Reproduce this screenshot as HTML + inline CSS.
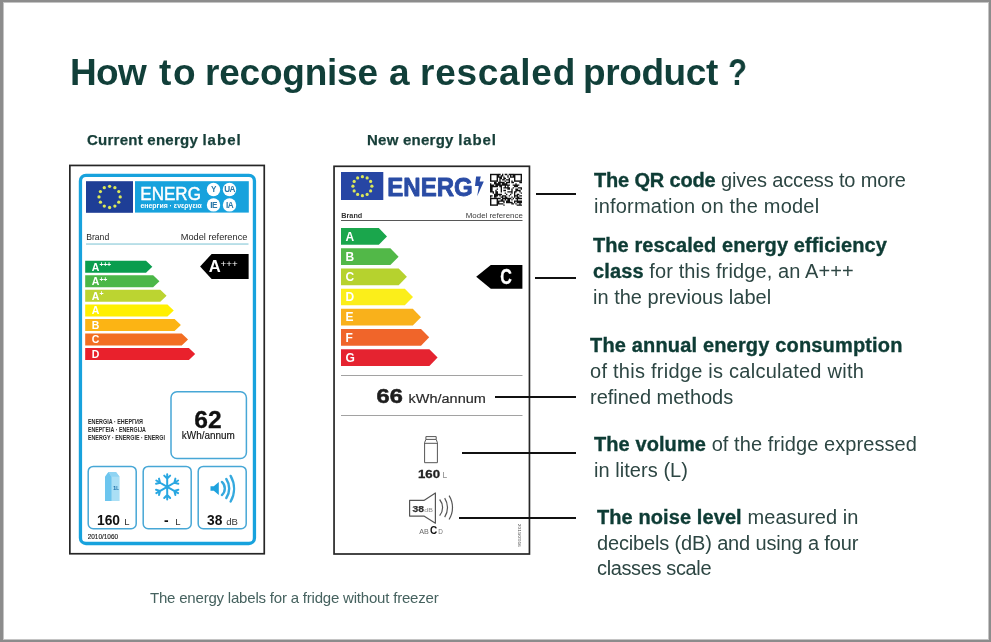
<!DOCTYPE html>
<html><head><meta charset="utf-8">
<style>
*{margin:0;padding:0;box-sizing:border-box}
html,body{width:991px;height:642px;overflow:hidden;background:#fff}
body{-webkit-font-smoothing:antialiased;position:relative;font-family:"Liberation Sans",sans-serif;color:#0f4540}
.a{position:absolute;white-space:nowrap;will-change:transform}
#frame{position:absolute;left:0;top:0;width:991px;height:642px;border-style:solid;border-color:#8c8c8c;border-width:2px 2px 2px 3px}
#frame2{position:absolute;left:3px;top:2px;width:986px;height:638px;border-style:solid;border-color:#c4c4c4;border-width:1px 1px 1px 1px}
.title{left:70px;top:54.3px;font-size:37px;line-height:37px;font-weight:bold;letter-spacing:-0.1px;color:#113f39}
.h2{font-size:15px;line-height:15px;font-weight:bold;letter-spacing:0.25px;color:#163e38;-webkit-text-stroke:0.25px #163e38;top:132px}
.cap{left:150px;top:590px;font-size:15px;line-height:15px;letter-spacing:-0.2px;color:#46625f}
.rt{font-size:20px;line-height:25.8px;color:#2d4643}
.rt b{color:#0e3c35;-webkit-text-stroke:0.35px #0e3c35}
.ln{position:absolute;height:2px;background:#111}
.box{position:absolute;border:1.5px solid #222}
</style></head><body>
<div id="frame"></div><div id="frame2"></div>

<div class="a title" style="left:70.00px;letter-spacing:-0.700px">How</div>
<div class="a title" style="left:158.6px;letter-spacing:1.6px">to</div>
<div class="a title" style="left:205.00px;letter-spacing:-0.225px">recognise</div>
<div class="a title" style="left:388.50px;letter-spacing:-0.100px">a</div>
<div class="a title" style="left:419.50px;letter-spacing:0.729px">rescaled</div>
<div class="a title" style="left:583.00px;letter-spacing:-0.400px">product</div>
<div class="a title" style="left:727.6px;letter-spacing:0;transform:scaleX(0.84);transform-origin:0 0">?</div>
<div class="a h2" style="left:87px">Current energy <span style="letter-spacing:1px">label</span></div>
<div class="a h2" style="left:366.5px">New energy <span style="letter-spacing:0.9px">label</span></div>
<div class="a cap">The energy labels for a fridge without freezer</div>

<div class="a rt" style="left:594.0px;top:168.4px;letter-spacing:-0.161px"><b>The QR code</b> gives access to more</div>
<div class="a rt" style="left:594.0px;top:194.2px;letter-spacing:0.217px">information on the model</div>
<div class="a rt" style="left:592.6px;top:233.2px;letter-spacing:0.090px"><b>The rescaled energy efficiency</b></div>
<div class="a rt" style="left:592.6px;top:259.0px;letter-spacing:0.117px"><b>class</b> for this fridge, an A+++</div>
<div class="a rt" style="left:592.6px;top:284.8px;letter-spacing:0.010px">in the previous label</div>
<div class="a rt" style="left:590.3px;top:333.4px;letter-spacing:0.164px"><b>The annual energy consumption</b></div>
<div class="a rt" style="left:590.3px;top:359.2px;letter-spacing:0.256px">of this fridge is calculated with</div>
<div class="a rt" style="left:590.3px;top:385.0px;letter-spacing:-0.014px">refined methods</div>
<div class="a rt" style="left:593.6px;top:432.4px;letter-spacing:0.085px"><b>The volume</b> of the fridge expressed</div>
<div class="a rt" style="left:593.6px;top:458.2px;letter-spacing:0.050px">in liters (L)</div>
<div class="a rt" style="left:596.6px;top:504.8px;letter-spacing:0.092px"><b>The noise level</b> measured in</div>
<div class="a rt" style="left:596.6px;top:530.6px;letter-spacing:-0.152px">decibels (dB) and using a four</div>
<div class="a rt" style="left:596.6px;top:556.4px;letter-spacing:-0.367px">classes scale</div>

<!-- current label -->

<!-- new label -->

<svg class="a" style="left:0;top:0" width="991" height="642" viewBox="0 0 991 642"><rect x="69.85" y="165.45" width="194.4" height="388.3" fill="none" stroke="#262626" stroke-width="1.7"/>
<rect x="334.05" y="166.3" width="195.4" height="387.7" fill="none" stroke="#262626" stroke-width="1.7"/>
<rect x="80.45" y="175.4" width="174" height="368.1" rx="5.5" fill="none" stroke="#17a2dd" stroke-width="3.3"/>
<rect x="86" y="181.2" width="47" height="31.6" fill="#1e3e96"/>
<g fill="#dce85a"><circle cx="109.60" cy="186.30" r="1.65"/><circle cx="114.90" cy="187.72" r="1.65"/><circle cx="118.78" cy="191.60" r="1.65"/><circle cx="120.20" cy="196.90" r="1.65"/><circle cx="118.78" cy="202.20" r="1.65"/><circle cx="114.90" cy="206.08" r="1.65"/><circle cx="109.60" cy="207.50" r="1.65"/><circle cx="104.30" cy="206.08" r="1.65"/><circle cx="100.42" cy="202.20" r="1.65"/><circle cx="99.00" cy="196.90" r="1.65"/><circle cx="100.42" cy="191.60" r="1.65"/><circle cx="104.30" cy="187.72" r="1.65"/></g>
<rect x="135" y="181.2" width="113.8" height="31.4" fill="#17a2dd"/>
<text x="140.3" y="199.6" font-family="Liberation Sans" font-size="18.4" fill="#fff" stroke="#fff" stroke-width="0.45" textLength="60.6" lengthAdjust="spacingAndGlyphs">ENERG</text>
<text x="140.4" y="207.6" font-family="Liberation Sans" font-size="7" font-weight="bold" fill="#fff" textLength="61.5" lengthAdjust="spacingAndGlyphs">енергия · ενεργεια</text>
<circle cx="213.5" cy="189.5" r="6.7" fill="#fff"/>
<text x="213.5" y="192.4" font-family="Liberation Sans" font-size="8.2" font-weight="bold" fill="#2a78a8" text-anchor="middle" letter-spacing="-0.6">Y</text>
<circle cx="229.5" cy="189.5" r="6.7" fill="#fff"/>
<text x="229.5" y="192.4" font-family="Liberation Sans" font-size="8.2" font-weight="bold" fill="#2a78a8" text-anchor="middle" letter-spacing="-0.6">UA</text>
<circle cx="213.5" cy="204.9" r="6.7" fill="#fff"/>
<text x="213.5" y="207.8" font-family="Liberation Sans" font-size="8.2" font-weight="bold" fill="#2a78a8" text-anchor="middle" letter-spacing="-0.6">IE</text>
<circle cx="229.5" cy="204.9" r="6.7" fill="#fff"/>
<text x="229.5" y="207.8" font-family="Liberation Sans" font-size="8.2" font-weight="bold" fill="#2a78a8" text-anchor="middle" letter-spacing="-0.6">IA</text>
<text x="86.2" y="239.5" font-family="Liberation Sans" font-size="9.2" fill="#262626" textLength="23" lengthAdjust="spacingAndGlyphs">Brand</text>
<text x="180.7" y="239.5" font-family="Liberation Sans" font-size="9.2" fill="#262626" textLength="66.7" lengthAdjust="spacingAndGlyphs">Model reference</text>
<rect x="86" y="243.3" width="162.5" height="1.5" fill="#a6d6e2"/>
<polygon points="85.2,260.8 146.0,260.8 152.3,266.8 146.0,272.8 85.2,272.8" fill="#0a9d4e"/>
<text x="91.8" y="270.80" font-family="Liberation Sans" font-size="10.5" font-weight="bold" fill="#fff">A<tspan font-size="7" dy="-3.6" letter-spacing="-0.3">+++</tspan></text>
<polygon points="85.2,275.33 153.14999999999998,275.33 159.45,281.33 153.14999999999998,287.33 85.2,287.33" fill="#4bb748"/>
<text x="91.8" y="285.33" font-family="Liberation Sans" font-size="10.5" font-weight="bold" fill="#fff">A<tspan font-size="7" dy="-3.6" letter-spacing="-0.3">++</tspan></text>
<polygon points="85.2,289.86 160.3,289.86 166.60000000000002,295.86 160.3,301.86 85.2,301.86" fill="#bcd431"/>
<text x="91.8" y="299.86" font-family="Liberation Sans" font-size="10.5" font-weight="bold" fill="#fff">A<tspan font-size="7" dy="-3.6" letter-spacing="-0.3">+</tspan></text>
<polygon points="85.2,304.39 167.45,304.39 173.75,310.39 167.45,316.39 85.2,316.39" fill="#fff000"/>
<text x="91.8" y="314.39" font-family="Liberation Sans" font-size="10.5" font-weight="bold" fill="#fff">A<tspan font-size="7" dy="-3.6" letter-spacing="-0.3"></tspan></text>
<polygon points="85.2,318.92 174.6,318.92 180.9,324.92 174.6,330.92 85.2,330.92" fill="#fcb414"/>
<text x="91.8" y="328.92" font-family="Liberation Sans" font-size="10.5" font-weight="bold" fill="#fff">B<tspan font-size="7" dy="-3.6" letter-spacing="-0.3"></tspan></text>
<polygon points="85.2,333.45 181.75,333.45 188.05,339.45 181.75,345.45 85.2,345.45" fill="#f26e22"/>
<text x="91.8" y="343.45" font-family="Liberation Sans" font-size="10.5" font-weight="bold" fill="#fff">C<tspan font-size="7" dy="-3.6" letter-spacing="-0.3"></tspan></text>
<polygon points="85.2,347.98 188.89999999999998,347.98 195.2,353.98 188.89999999999998,359.98 85.2,359.98" fill="#e9212c"/>
<text x="91.8" y="357.98" font-family="Liberation Sans" font-size="10.5" font-weight="bold" fill="#fff">D<tspan font-size="7" dy="-3.6" letter-spacing="-0.3"></tspan></text>
<polygon points="200.1,266.5 211.6,254.1 248.6,254.1 248.6,278.9 211.6,278.9" fill="#000"/>
<text x="208.8" y="272" font-family="Liberation Sans" font-size="16.6" font-weight="bold" fill="#fff">A</text>
<text x="220.6" y="267.3" font-family="Liberation Sans" font-size="9.5" fill="#fff" textLength="17" lengthAdjust="spacingAndGlyphs">+++</text>
<text x="87.9" y="424.1" font-family="Liberation Sans" font-size="7.3" font-weight="bold" fill="#2a2a2a" textLength="55" lengthAdjust="spacingAndGlyphs">ENERGIA · ЕНЕРГИЯ</text>
<text x="87.9" y="432.2" font-family="Liberation Sans" font-size="7.3" font-weight="bold" fill="#2a2a2a" textLength="58" lengthAdjust="spacingAndGlyphs">ΕΝΕΡΓΕΙΑ · ENERGIJA</text>
<text x="87.9" y="440.0" font-family="Liberation Sans" font-size="7.3" font-weight="bold" fill="#2a2a2a" textLength="77" lengthAdjust="spacingAndGlyphs">ENERGY · ENERGIE · ENERGI</text>
<rect x="171" y="391.8" width="75.4" height="66.8" rx="6" fill="none" stroke="#47a7d6" stroke-width="1.5"/>
<text x="208" y="428.4" font-family="Liberation Sans" font-size="24.6" font-weight="bold" fill="#111" stroke="#111" stroke-width="0.3" text-anchor="middle">62</text>
<text x="181.8" y="438.8" font-family="Liberation Sans" font-size="10.6" fill="#111" stroke="#111" stroke-width="0.15" textLength="53" lengthAdjust="spacingAndGlyphs">kWh/annum</text>
<rect x="88.2" y="466.4" width="48" height="62.3" rx="5" fill="none" stroke="#47a7d6" stroke-width="1.5"/>
<rect x="143.2" y="466.4" width="48" height="62.3" rx="5" fill="none" stroke="#47a7d6" stroke-width="1.5"/>
<rect x="198.2" y="466.4" width="48" height="62.3" rx="5" fill="none" stroke="#47a7d6" stroke-width="1.5"/>
<polygon points="105,476.8 108.5,471.9 116,471.9 119.6,476.8 119.6,501 105,501" fill="#aadff5"/>
<polygon points="105,476.8 108.5,471.9 111.5,476.8 111.5,501 105,501" fill="#6cc5ee"/>
<polygon points="111.5,476.8 108.5,471.9 116,471.9 119.6,476.8" fill="#8fd4f3"/>
<text x="113" y="490" font-family="Liberation Sans" font-size="6" font-weight="bold" fill="#1b6fa8">1<tspan font-size="4.5">L</tspan></text>
<path d="M167.20,486.80 L167.20,474.20 M167.20,478.60 L164.23,475.63 M167.20,478.60 L170.17,475.63 M167.20,486.80 L178.11,480.50 M174.30,482.70 L175.39,478.64 M174.30,482.70 L178.36,483.79 M167.20,486.80 L178.11,493.10 M174.30,490.90 L178.36,489.81 M174.30,490.90 L175.39,494.96 M167.20,486.80 L167.20,499.40 M167.20,495.00 L170.17,497.97 M167.20,495.00 L164.23,497.97 M167.20,486.80 L156.29,493.10 M160.10,490.90 L159.01,494.96 M160.10,490.90 L156.04,489.81 M167.20,486.80 L156.29,480.50 M160.10,482.70 L156.04,483.79 M160.10,482.70 L159.01,478.64" stroke="#29a7e1" stroke-width="2" stroke-linecap="round" fill="none"/>
<polygon points="210.5,486.3 213.8,486.3 218.8,482 218.8,495 213.8,490.7 210.5,490.7" fill="#1ea2de"/>
<path d="M221.89,481.96 A8.8,8.8 0 0 1 221.89,495.04 M226.29,478.99 A17,17 0 0 1 226.29,498.01 M230.63,475.90 A26,26 0 0 1 230.63,501.50" stroke="#35a9de" stroke-width="2.4" stroke-linecap="round" fill="none"/>
<text x="97" y="525" font-family="Liberation Sans" font-size="13.8" font-weight="bold" fill="#111">160</text>
<text x="124.3" y="525" font-family="Liberation Sans" font-size="9.5" fill="#333">L</text>
<text x="164" y="525" font-family="Liberation Sans" font-size="13.8" font-weight="bold" fill="#111">-</text>
<text x="175.2" y="525" font-family="Liberation Sans" font-size="9.5" fill="#333">L</text>
<text x="207" y="525" font-family="Liberation Sans" font-size="13.8" font-weight="bold" fill="#111">38</text>
<text x="226.2" y="525" font-family="Liberation Sans" font-size="9.5" fill="#333">dB</text>
<text x="87.7" y="538.9" font-family="Liberation Sans" font-size="7.2" fill="#1a1a1a" stroke="#1a1a1a" stroke-width="0.15" textLength="30.4" lengthAdjust="spacingAndGlyphs">2010/1060</text>
<rect x="341" y="172" width="42.3" height="28" fill="#2746a4"/>
<g fill="#dce85a"><circle cx="362.40" cy="176.70" r="1.6"/><circle cx="367.15" cy="177.97" r="1.6"/><circle cx="370.63" cy="181.45" r="1.6"/><circle cx="371.90" cy="186.20" r="1.6"/><circle cx="370.63" cy="190.95" r="1.6"/><circle cx="367.15" cy="194.43" r="1.6"/><circle cx="362.40" cy="195.70" r="1.6"/><circle cx="357.65" cy="194.43" r="1.6"/><circle cx="354.17" cy="190.95" r="1.6"/><circle cx="352.90" cy="186.20" r="1.6"/><circle cx="354.17" cy="181.45" r="1.6"/><circle cx="357.65" cy="177.97" r="1.6"/></g>
<text x="387.3" y="195.8" font-family="Liberation Sans" font-size="26.6" font-weight="bold" fill="#2a4ca5" stroke="#2a4ca5" stroke-width="0.9" stroke-linejoin="round" textLength="85.4" lengthAdjust="spacingAndGlyphs">ENERG</text>
<polygon points="476.1,176.6 480.8,176.6 479.6,181.5 483.8,181.5 477.2,196.3 478.8,186 475,186" fill="#2a4ca5"/>
<path d="M498.00,173.80h1.33v1.33h-1.33zM499.33,173.80h1.33v1.33h-1.33zM502.00,173.80h1.33v1.33h-1.33zM504.67,173.80h1.33v1.33h-1.33zM506.00,173.80h1.33v1.33h-1.33zM508.67,173.80h1.33v1.33h-1.33zM510.00,173.80h1.33v1.33h-1.33zM511.33,173.80h1.33v1.33h-1.33zM512.67,173.80h1.33v1.33h-1.33zM498.00,175.13h1.33v1.33h-1.33zM500.67,175.13h1.33v1.33h-1.33zM502.00,175.13h1.33v1.33h-1.33zM507.33,175.13h1.33v1.33h-1.33zM510.00,175.13h1.33v1.33h-1.33zM512.67,175.13h1.33v1.33h-1.33zM498.00,176.47h1.33v1.33h-1.33zM499.33,176.47h1.33v1.33h-1.33zM500.67,176.47h1.33v1.33h-1.33zM503.33,176.47h1.33v1.33h-1.33zM507.33,176.47h1.33v1.33h-1.33zM510.00,176.47h1.33v1.33h-1.33zM511.33,176.47h1.33v1.33h-1.33zM512.67,176.47h1.33v1.33h-1.33zM499.33,177.80h1.33v1.33h-1.33zM500.67,177.80h1.33v1.33h-1.33zM503.33,177.80h1.33v1.33h-1.33zM504.67,177.80h1.33v1.33h-1.33zM508.67,177.80h1.33v1.33h-1.33zM499.33,179.13h1.33v1.33h-1.33zM502.00,179.13h1.33v1.33h-1.33zM503.33,179.13h1.33v1.33h-1.33zM506.00,179.13h1.33v1.33h-1.33zM507.33,179.13h1.33v1.33h-1.33zM508.67,179.13h1.33v1.33h-1.33zM499.33,180.47h1.33v1.33h-1.33zM504.67,180.47h1.33v1.33h-1.33zM508.67,180.47h1.33v1.33h-1.33zM511.33,180.47h1.33v1.33h-1.33zM494.00,181.80h1.33v1.33h-1.33zM495.33,181.80h1.33v1.33h-1.33zM498.00,181.80h1.33v1.33h-1.33zM499.33,181.80h1.33v1.33h-1.33zM500.67,181.80h1.33v1.33h-1.33zM502.00,181.80h1.33v1.33h-1.33zM503.33,181.80h1.33v1.33h-1.33zM506.00,181.80h1.33v1.33h-1.33zM507.33,181.80h1.33v1.33h-1.33zM508.67,181.80h1.33v1.33h-1.33zM511.33,181.80h1.33v1.33h-1.33zM512.67,181.80h1.33v1.33h-1.33zM519.33,181.80h1.33v1.33h-1.33zM520.67,181.80h1.33v1.33h-1.33zM490.00,183.13h1.33v1.33h-1.33zM494.00,183.13h1.33v1.33h-1.33zM495.33,183.13h1.33v1.33h-1.33zM496.67,183.13h1.33v1.33h-1.33zM498.00,183.13h1.33v1.33h-1.33zM499.33,183.13h1.33v1.33h-1.33zM502.00,183.13h1.33v1.33h-1.33zM503.33,183.13h1.33v1.33h-1.33zM504.67,183.13h1.33v1.33h-1.33zM506.00,183.13h1.33v1.33h-1.33zM515.33,183.13h1.33v1.33h-1.33zM490.00,184.47h1.33v1.33h-1.33zM491.33,184.47h1.33v1.33h-1.33zM492.67,184.47h1.33v1.33h-1.33zM495.33,184.47h1.33v1.33h-1.33zM496.67,184.47h1.33v1.33h-1.33zM498.00,184.47h1.33v1.33h-1.33zM499.33,184.47h1.33v1.33h-1.33zM500.67,184.47h1.33v1.33h-1.33zM502.00,184.47h1.33v1.33h-1.33zM503.33,184.47h1.33v1.33h-1.33zM504.67,184.47h1.33v1.33h-1.33zM506.00,184.47h1.33v1.33h-1.33zM507.33,184.47h1.33v1.33h-1.33zM508.67,184.47h1.33v1.33h-1.33zM512.67,184.47h1.33v1.33h-1.33zM514.00,184.47h1.33v1.33h-1.33zM515.33,184.47h1.33v1.33h-1.33zM516.67,184.47h1.33v1.33h-1.33zM518.00,184.47h1.33v1.33h-1.33zM490.00,185.80h1.33v1.33h-1.33zM491.33,185.80h1.33v1.33h-1.33zM492.67,185.80h1.33v1.33h-1.33zM494.00,185.80h1.33v1.33h-1.33zM495.33,185.80h1.33v1.33h-1.33zM496.67,185.80h1.33v1.33h-1.33zM499.33,185.80h1.33v1.33h-1.33zM500.67,185.80h1.33v1.33h-1.33zM504.67,185.80h1.33v1.33h-1.33zM507.33,185.80h1.33v1.33h-1.33zM514.00,185.80h1.33v1.33h-1.33zM515.33,185.80h1.33v1.33h-1.33zM516.67,185.80h1.33v1.33h-1.33zM490.00,187.13h1.33v1.33h-1.33zM491.33,187.13h1.33v1.33h-1.33zM500.67,187.13h1.33v1.33h-1.33zM503.33,187.13h1.33v1.33h-1.33zM504.67,187.13h1.33v1.33h-1.33zM506.00,187.13h1.33v1.33h-1.33zM507.33,187.13h1.33v1.33h-1.33zM508.67,187.13h1.33v1.33h-1.33zM512.67,187.13h1.33v1.33h-1.33zM518.00,187.13h1.33v1.33h-1.33zM519.33,187.13h1.33v1.33h-1.33zM520.67,187.13h1.33v1.33h-1.33zM490.00,188.47h1.33v1.33h-1.33zM491.33,188.47h1.33v1.33h-1.33zM496.67,188.47h1.33v1.33h-1.33zM500.67,188.47h1.33v1.33h-1.33zM507.33,188.47h1.33v1.33h-1.33zM508.67,188.47h1.33v1.33h-1.33zM511.33,188.47h1.33v1.33h-1.33zM515.33,188.47h1.33v1.33h-1.33zM516.67,188.47h1.33v1.33h-1.33zM520.67,188.47h1.33v1.33h-1.33zM490.00,189.80h1.33v1.33h-1.33zM491.33,189.80h1.33v1.33h-1.33zM495.33,189.80h1.33v1.33h-1.33zM500.67,189.80h1.33v1.33h-1.33zM503.33,189.80h1.33v1.33h-1.33zM504.67,189.80h1.33v1.33h-1.33zM511.33,189.80h1.33v1.33h-1.33zM515.33,189.80h1.33v1.33h-1.33zM516.67,189.80h1.33v1.33h-1.33zM518.00,189.80h1.33v1.33h-1.33zM519.33,189.80h1.33v1.33h-1.33zM490.00,191.13h1.33v1.33h-1.33zM491.33,191.13h1.33v1.33h-1.33zM492.67,191.13h1.33v1.33h-1.33zM495.33,191.13h1.33v1.33h-1.33zM496.67,191.13h1.33v1.33h-1.33zM500.67,191.13h1.33v1.33h-1.33zM507.33,191.13h1.33v1.33h-1.33zM508.67,191.13h1.33v1.33h-1.33zM510.00,191.13h1.33v1.33h-1.33zM511.33,191.13h1.33v1.33h-1.33zM514.00,191.13h1.33v1.33h-1.33zM515.33,191.13h1.33v1.33h-1.33zM519.33,191.13h1.33v1.33h-1.33zM492.67,192.47h1.33v1.33h-1.33zM495.33,192.47h1.33v1.33h-1.33zM496.67,192.47h1.33v1.33h-1.33zM504.67,192.47h1.33v1.33h-1.33zM511.33,192.47h1.33v1.33h-1.33zM514.00,192.47h1.33v1.33h-1.33zM520.67,192.47h1.33v1.33h-1.33zM494.00,193.80h1.33v1.33h-1.33zM495.33,193.80h1.33v1.33h-1.33zM496.67,193.80h1.33v1.33h-1.33zM498.00,193.80h1.33v1.33h-1.33zM499.33,193.80h1.33v1.33h-1.33zM500.67,193.80h1.33v1.33h-1.33zM506.00,193.80h1.33v1.33h-1.33zM510.00,193.80h1.33v1.33h-1.33zM514.00,193.80h1.33v1.33h-1.33zM516.67,193.80h1.33v1.33h-1.33zM518.00,193.80h1.33v1.33h-1.33zM490.00,195.13h1.33v1.33h-1.33zM491.33,195.13h1.33v1.33h-1.33zM494.00,195.13h1.33v1.33h-1.33zM495.33,195.13h1.33v1.33h-1.33zM496.67,195.13h1.33v1.33h-1.33zM499.33,195.13h1.33v1.33h-1.33zM502.00,195.13h1.33v1.33h-1.33zM503.33,195.13h1.33v1.33h-1.33zM504.67,195.13h1.33v1.33h-1.33zM508.67,195.13h1.33v1.33h-1.33zM514.00,195.13h1.33v1.33h-1.33zM515.33,195.13h1.33v1.33h-1.33zM516.67,195.13h1.33v1.33h-1.33zM519.33,195.13h1.33v1.33h-1.33zM520.67,195.13h1.33v1.33h-1.33zM490.00,196.47h1.33v1.33h-1.33zM494.00,196.47h1.33v1.33h-1.33zM495.33,196.47h1.33v1.33h-1.33zM500.67,196.47h1.33v1.33h-1.33zM502.00,196.47h1.33v1.33h-1.33zM504.67,196.47h1.33v1.33h-1.33zM506.00,196.47h1.33v1.33h-1.33zM511.33,196.47h1.33v1.33h-1.33zM514.00,196.47h1.33v1.33h-1.33zM516.67,196.47h1.33v1.33h-1.33zM518.00,196.47h1.33v1.33h-1.33zM498.00,197.80h1.33v1.33h-1.33zM499.33,197.80h1.33v1.33h-1.33zM502.00,197.80h1.33v1.33h-1.33zM503.33,197.80h1.33v1.33h-1.33zM504.67,197.80h1.33v1.33h-1.33zM506.00,197.80h1.33v1.33h-1.33zM507.33,197.80h1.33v1.33h-1.33zM508.67,197.80h1.33v1.33h-1.33zM510.00,197.80h1.33v1.33h-1.33zM512.67,197.80h1.33v1.33h-1.33zM515.33,197.80h1.33v1.33h-1.33zM516.67,197.80h1.33v1.33h-1.33zM518.00,197.80h1.33v1.33h-1.33zM519.33,197.80h1.33v1.33h-1.33zM520.67,197.80h1.33v1.33h-1.33zM500.67,199.13h1.33v1.33h-1.33zM502.00,199.13h1.33v1.33h-1.33zM504.67,199.13h1.33v1.33h-1.33zM507.33,199.13h1.33v1.33h-1.33zM508.67,199.13h1.33v1.33h-1.33zM511.33,199.13h1.33v1.33h-1.33zM516.67,199.13h1.33v1.33h-1.33zM498.00,200.47h1.33v1.33h-1.33zM499.33,200.47h1.33v1.33h-1.33zM500.67,200.47h1.33v1.33h-1.33zM502.00,200.47h1.33v1.33h-1.33zM503.33,200.47h1.33v1.33h-1.33zM506.00,200.47h1.33v1.33h-1.33zM507.33,200.47h1.33v1.33h-1.33zM508.67,200.47h1.33v1.33h-1.33zM514.00,200.47h1.33v1.33h-1.33zM515.33,200.47h1.33v1.33h-1.33zM516.67,200.47h1.33v1.33h-1.33zM518.00,200.47h1.33v1.33h-1.33zM519.33,200.47h1.33v1.33h-1.33zM520.67,200.47h1.33v1.33h-1.33zM498.00,201.80h1.33v1.33h-1.33zM503.33,201.80h1.33v1.33h-1.33zM506.00,201.80h1.33v1.33h-1.33zM507.33,201.80h1.33v1.33h-1.33zM508.67,201.80h1.33v1.33h-1.33zM510.00,201.80h1.33v1.33h-1.33zM511.33,201.80h1.33v1.33h-1.33zM514.00,201.80h1.33v1.33h-1.33zM516.67,201.80h1.33v1.33h-1.33zM518.00,201.80h1.33v1.33h-1.33zM519.33,201.80h1.33v1.33h-1.33zM520.67,201.80h1.33v1.33h-1.33zM498.00,203.13h1.33v1.33h-1.33zM499.33,203.13h1.33v1.33h-1.33zM500.67,203.13h1.33v1.33h-1.33zM502.00,203.13h1.33v1.33h-1.33zM511.33,203.13h1.33v1.33h-1.33zM512.67,203.13h1.33v1.33h-1.33zM515.33,203.13h1.33v1.33h-1.33zM519.33,203.13h1.33v1.33h-1.33zM503.33,204.47h1.33v1.33h-1.33zM516.67,204.47h1.33v1.33h-1.33zM518.00,204.47h1.33v1.33h-1.33zM519.33,204.47h1.33v1.33h-1.33zM520.67,204.47h1.33v1.33h-1.33z" fill="#111"/>
<rect x="490.70" y="174.50" width="6.60" height="6.60" fill="none" stroke="#111" stroke-width="1.4"/>
<rect x="514.70" y="174.50" width="6.60" height="6.60" fill="none" stroke="#111" stroke-width="1.4"/>
<rect x="490.70" y="198.50" width="6.60" height="6.60" fill="none" stroke="#111" stroke-width="1.4"/>
<text x="341.3" y="217.9" font-family="Liberation Sans" font-size="6.8" font-weight="bold" fill="#333" textLength="21" lengthAdjust="spacingAndGlyphs">Brand</text>
<text x="522.8" y="217.9" font-family="Liberation Sans" font-size="8" fill="#3a3a3a" text-anchor="end" textLength="57" lengthAdjust="spacingAndGlyphs">Model reference</text>
<rect x="341" y="220.1" width="181.5" height="0.9" fill="#444"/>
<polygon points="341,228.1 378.8,228.1 387,236.45 378.8,244.79999999999998 341,244.79999999999998" fill="#1aa64c"/>
<text x="345.6" y="240.70" font-family="Liberation Sans" font-size="12" font-weight="bold" fill="#fff">A</text>
<polygon points="341,248.28 390.40000000000003,248.28 398.6,256.63 390.40000000000003,264.98 341,264.98" fill="#52b848"/>
<text x="345.6" y="260.88" font-family="Liberation Sans" font-size="12" font-weight="bold" fill="#fff">B</text>
<polygon points="341,268.46 398.7,268.46 406.9,276.81 398.7,285.15999999999997 341,285.15999999999997" fill="#b6d22e"/>
<text x="345.6" y="281.06" font-family="Liberation Sans" font-size="12" font-weight="bold" fill="#fff">C</text>
<polygon points="341,288.64 404.8,288.64 413,296.99 404.8,305.34 341,305.34" fill="#fbee1a"/>
<text x="345.6" y="301.24" font-family="Liberation Sans" font-size="12" font-weight="bold" fill="#fff">D</text>
<polygon points="341,308.82 412.8,308.82 421,317.17 412.8,325.52 341,325.52" fill="#f9b11b"/>
<text x="345.6" y="321.42" font-family="Liberation Sans" font-size="12" font-weight="bold" fill="#fff">E</text>
<polygon points="341,329.0 421.0,329.0 429.2,337.35 421.0,345.7 341,345.7" fill="#f0652a"/>
<text x="345.6" y="341.60" font-family="Liberation Sans" font-size="12" font-weight="bold" fill="#fff">F</text>
<polygon points="341,349.18 429.40000000000003,349.18 437.6,357.53000000000003 429.40000000000003,365.88 341,365.88" fill="#e52330"/>
<text x="345.6" y="361.78" font-family="Liberation Sans" font-size="12" font-weight="bold" fill="#fff">G</text>
<polygon points="476.2,276.84999999999997 490.8,264.9 522.4,264.9 522.4,288.79999999999995 490.8,288.79999999999995" fill="#000"/>
<text x="500.3" y="284.3" font-family="Liberation Sans" font-size="21.4" font-weight="bold" fill="#fff" stroke="#fff" stroke-width="0.35" textLength="11.6" lengthAdjust="spacingAndGlyphs">C</text>
<rect x="341" y="375" width="181.5" height="1" fill="#a2a2a2"/>
<rect x="341" y="415" width="181.5" height="1" fill="#a2a2a2"/>
<text x="376.6" y="403" font-family="Liberation Sans" font-size="20.2" font-weight="bold" fill="#1e1e1e" stroke="#1e1e1e" stroke-width="0.55" textLength="26.2" lengthAdjust="spacingAndGlyphs">66</text>
<text x="408.6" y="403" font-family="Liberation Sans" font-size="13.7" fill="#2a2a2a" stroke="#2a2a2a" stroke-width="0.2" textLength="77.2" lengthAdjust="spacingAndGlyphs">kWh/annum</text>
<path d="M425.9,436.6 h10.3 v2.8 h-10.3 z M425.9,439.4 L424.6,442.6 V462.7 H437.4 V442.6 L436.2,439.4 M424.6,443.3 H437.4" stroke="#555" stroke-width="1" fill="none"/>
<text x="418" y="477.9" font-family="Liberation Sans" font-size="11.6" font-weight="bold" fill="#222" stroke="#222" stroke-width="0.3" textLength="22" lengthAdjust="spacingAndGlyphs">160</text>
<text x="442.6" y="478.2" font-family="Liberation Sans" font-size="8.4" fill="#8a8a8a">L</text>
<path d="M409.6,500.4 H423.9 L435.4,493 V523.2 L423.9,516.1 H409.6 Z" stroke="#555" stroke-width="1.2" fill="none" stroke-linejoin="round"/>
<text x="412.4" y="511.6" font-family="Liberation Sans" font-size="8.8" font-weight="bold" fill="#333" stroke="#333" stroke-width="0.25" textLength="11.5" lengthAdjust="spacingAndGlyphs">38</text>
<text x="424.3" y="511.6" font-family="Liberation Sans" font-size="6.2" fill="#888" textLength="8.6" lengthAdjust="spacingAndGlyphs">dB</text>
<path d="M439.65,499.50 A12.6,12.6 0 0 1 439.65,515.70 M444.68,498.07 A17.5,17.5 0 0 1 444.68,517.13 M449.08,495.68 A22.5,22.5 0 0 1 449.08,519.52" stroke="#555" stroke-width="1.2" fill="none"/>
<text x="419.2" y="534" font-family="Liberation Sans" font-size="6.6" fill="#6a6a6a" textLength="9.6" lengthAdjust="spacingAndGlyphs">AB</text>
<text x="429.9" y="534" font-family="Liberation Sans" font-size="10" font-weight="bold" fill="#111">C</text>
<text x="438.3" y="534" font-family="Liberation Sans" font-size="6.4" fill="#777">D</text>
<text transform="translate(518.4,523.8) rotate(90)" font-family="Liberation Sans" font-size="4.2" fill="#555" textLength="23" lengthAdjust="spacingAndGlyphs">2019/2016</text></svg>
<!-- connector lines -->
<div class="ln" style="left:536px;top:193px;width:40px"></div>
<div class="ln" style="left:535px;top:277px;width:41px"></div>
<div class="ln" style="left:495px;top:396px;width:81px"></div>
<div class="ln" style="left:462px;top:452px;width:114px"></div>
<div class="ln" style="left:459px;top:517px;width:117px"></div>


</body></html>
